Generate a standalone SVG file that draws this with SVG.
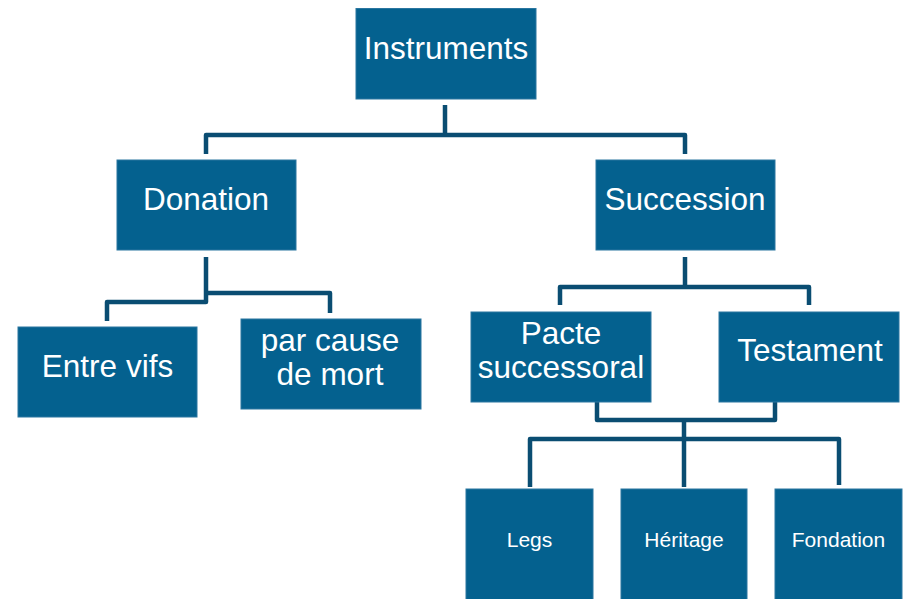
<svg xmlns="http://www.w3.org/2000/svg" width="903" height="599" viewBox="0 0 903 599">
<style>
.box{fill:#04618F;stroke:#2A76A0;stroke-width:1}
.t{font-family:"Liberation Sans",Arial,sans-serif;font-size:31.5px;fill:#FFFFFF;text-anchor:middle}
.s{font-family:"Liberation Sans",Arial,sans-serif;font-size:21px;fill:#FFFFFF;text-anchor:middle}
.c{fill:none;stroke:#0A4D72;stroke-width:4.5;stroke-linejoin:round;stroke-linecap:butt}
</style>
<rect width="903" height="599" fill="#FFFFFF"/>
<g id="connectors">
<path class="c" d="M445,105 V135"/>
<path class="c" d="M206,154 V135 H685 V154"/>
<path class="c" d="M206,257 V302 H107 V321"/>
<path class="c" d="M206,293 H330 V313"/>
<path class="c" d="M685,257 V287"/>
<path class="c" d="M560,305 V287 H809 V305"/>
<path class="c" d="M597,402 V420 H775 V402"/>
<path class="c" d="M684,420 V487"/>
<path class="c" d="M530,487 V439 H839 V485"/>
</g>
<g id="instruments"><rect class="box" x="356" y="8.5" width="180" height="90.5"/><text class="t" x="446" y="58.5">Instruments</text></g>
<g id="donation"><rect class="box" x="117" y="160" width="179" height="90"/><text class="t" x="206" y="209.5">Donation</text></g>
<g id="succession"><rect class="box" x="596" y="160" width="179" height="90"/><text class="t" x="685" y="209.5">Succession</text></g>
<g id="entre-vifs"><rect class="box" x="18" y="327" width="179" height="90"/><text class="t" x="107.5" y="376.5">Entre vifs</text></g>
<g id="par-cause"><rect class="box" x="241" y="319" width="180" height="90"/><text class="t" x="330" y="351">par cause</text><text class="t" x="330" y="385">de mort</text></g>
<g id="pacte"><rect class="box" x="471" y="312" width="180" height="90"/><text class="t" x="561" y="344">Pacte</text><text class="t" x="561" y="378">successoral</text></g>
<g id="testament"><rect class="box" x="719" y="312" width="180" height="90"/><text class="t" x="810" y="361">Testament</text></g>
<g id="legs"><rect class="box" x="466" y="489" width="127" height="115"/><text class="s" x="529.5" y="546.5">Legs</text></g>
<g id="heritage"><rect class="box" x="621" y="489" width="126" height="115"/><text class="s" x="684" y="546.5">Héritage</text></g>
<g id="fondation"><rect class="box" x="775" y="489" width="127" height="115"/><text class="s" x="838.5" y="546.5">Fondation</text></g>
</svg>
